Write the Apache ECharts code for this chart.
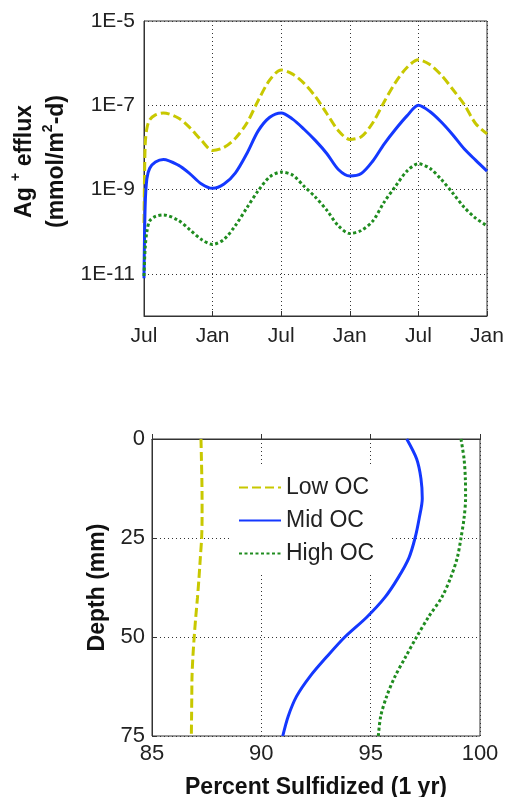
<!DOCTYPE html>
<html>
<head>
<meta charset="utf-8">
<script src="https://cdn.jsdelivr.net/npm/echarts@6/dist/echarts.min.js"></script>
<style>
html, body { margin: 0; padding: 0; background: #fff; }
#chart { width: 507px; height: 797px; }
</style>
</head>
<body>
<div id="chart"></div>
<script>
// top panel: Ag+ efflux, x in months counted from the first July
const months = [0, 0.1, 0.25, 0.5, 1, 1.7, 3, 4, 5, 6, 7, 8, 9, 10, 11, 12, 13, 14, 15,
  16, 17, 18, 19, 20, 21, 22, 23, 24, 25, 26, 27, 28, 29, 30];
const tickLabels = ['Jul', 'Jan', 'Jul', 'Jan', 'Jul', 'Jan'];
const effluxLow = [1.6e-10, 1.1e-8, 2.8e-8, 4.5e-8, 5.9e-8, 6.6e-8, 5.0e-8, 2.95e-8, 1.5e-8, 8.5e-9,
  1.0e-8, 1.66e-8, 3.8e-8, 1.32e-7, 4.0e-7, 6.9e-7, 5.5e-7, 3.3e-7, 1.6e-7, 6.3e-8,
  2.5e-8, 1.55e-8, 1.8e-8, 3.8e-8, 1.2e-7, 3.5e-7, 7.9e-7, 1.2e-6, 9.3e-7, 5.2e-7,
  2.4e-7, 1.05e-7, 3.7e-8, 2.1e-8];
const effluxMid = [7.9e-12, 4.0e-10, 1.8e-9, 3.2e-9, 4.5e-9, 5.2e-9, 3.8e-9, 2.4e-9, 1.38e-9, 1.07e-9,
  1.35e-9, 2.5e-9, 7.2e-9, 2.5e-8, 5.2e-8, 6.6e-8, 4.7e-8, 2.7e-8, 1.45e-8, 7.1e-9,
  3.0e-9, 2.1e-9, 2.4e-9, 4.7e-9, 1.2e-8, 2.7e-8, 5.6e-8, 1.0e-7, 7.1e-8, 4.0e-8,
  2.0e-8, 9.3e-9, 5.0e-9, 2.75e-9];
const effluxHigh = [8.9e-12, 4.0e-11, 1.0e-10, 1.8e-10, 2.3e-10, 2.5e-10, 1.86e-10, 1.12e-10, 6.6e-11, 5.0e-11,
  6.6e-11, 1.41e-10, 3.7e-10, 9.5e-10, 2.0e-9, 2.6e-9, 2.2e-9, 1.2e-9, 6.6e-10, 3.2e-10,
  1.38e-10, 9.1e-11, 1.07e-10, 1.78e-10, 5.0e-10, 1.2e-9, 2.75e-9, 4.1e-9, 3.2e-9, 1.74e-9,
  8.3e-10, 3.8e-10, 2.1e-10, 1.38e-10];

// bottom panel: percent sulfidized after 1 yr vs depth (mm)
const depths = [0, 5, 10, 15, 20, 25, 30, 35, 40, 45, 50, 55, 60, 65, 70, 75];
const sulfLow = [87.24, 87.26, 87.28, 87.29, 87.29, 87.27, 87.21, 87.15, 87.08, 87.0, 86.93, 86.87, 86.83, 86.82, 86.81, 86.8];
const sulfMid = [96.65, 97.1, 97.3, 97.36, 97.22, 97.03, 96.75, 96.26, 95.65, 94.82, 93.82, 92.99, 92.22, 91.61, 91.23, 90.98];
const sulfHigh = [99.13, 99.27, 99.33, 99.34, 99.27, 99.13, 98.96, 98.66, 98.25, 97.64, 97.1, 96.6, 96.11, 95.73, 95.46, 95.35];
const seriesNames = ['Low OC', 'Mid OC', 'High OC'];

const font = 'Liberation Sans, Arial, sans-serif';
const txt = '#222';
const dotted = [1, 3];
const styles = [
  { color: '#c8c800', type: [9, 4] },
  { color: '#1438ff', type: 'solid' },
  { color: '#1f8c1f', type: [3, 2.5] }
];

let myChart = echarts.init(document.getElementById('chart'), null, { renderer: 'canvas' });

function lineSeries(name, data, st, xi) {
  return {
    name: name,
    type: 'line',
    xAxisIndex: xi,
    yAxisIndex: xi,
    data: data,
    symbol: 'none',
    smooth: 0.3,
    color: st.color,
    lineStyle: { width: 3, color: st.color, type: st.type }
  };
}

let option = {
  animation: false,
  backgroundColor: '#fff',
  grid: [
    { left: 144, top: 21, width: 343, height: 295, show: true, borderColor: '#333', borderWidth: 1, outerBoundsMode: 'none' },
    { left: 152, top: 439, width: 328, height: 297, show: true, borderColor: '#333', borderWidth: 1, outerBoundsMode: 'none' }
  ],
  legend: {
    orient: 'vertical',
    left: 230,
    top: 467,
    padding: [9, 16, 10, 8],
    backgroundColor: '#fff',
    itemWidth: 42,
    itemHeight: 14,
    itemGap: 10,
    itemStyle: { opacity: 0 },   // hide the dot, keep the line sample
    data: seriesNames,
    textStyle: { fontSize: 23, color: txt, fontFamily: font }
  },
  xAxis: [
    {
      gridIndex: 0, type: 'value', min: 0, max: 30, interval: 6,
      axisLine: { lineStyle: { color: '#333' } },
      axisTick: { inside: true, length: 5, lineStyle: { color: '#333' } },
      axisLabel: {
        margin: 10, fontSize: 21, color: txt, fontFamily: font,
        formatter: v => tickLabels[Math.round(v / 6)]
      },
      splitLine: { show: true, lineStyle: { color: '#333', type: dotted } }
    },
    {
      gridIndex: 1, type: 'value', min: 85, max: 100, interval: 5,
      name: 'Percent Sulfidized (1 yr)', nameLocation: 'middle', nameGap: 40,
      nameTextStyle: { fontSize: 23, fontWeight: 'bold', color: '#111', fontFamily: font },
      axisLine: { lineStyle: { color: '#333' } },
      axisTick: { inside: true, length: 5, lineStyle: { color: '#333' } },
      axisLabel: { margin: 7, fontSize: 22, color: txt, fontFamily: font },
      splitLine: { show: true, lineStyle: { color: '#333', type: dotted } }
    }
  ],
  yAxis: [
    {
      gridIndex: 0, type: 'log', logBase: 10, min: 1e-12, max: 1e-5, splitNumber: 7,
      name: '{t|Ag }{s|+}{t| efflux}\n{t|(mmol/m}{s|2}{t|-d)}',
      nameLocation: 'middle', nameGap: 71, nameRotate: 90,
      nameTextStyle: {
        padding: [0, 0, 0, 14],
        rich: {
          t: { fontSize: 23, fontWeight: 'bold', color: '#111', fontFamily: font, lineHeight: 32 },
          s: { fontSize: 14, fontWeight: 'bold', color: '#111', fontFamily: font, lineHeight: 14, verticalAlign: 'top' }
        }
      },
      axisLine: { lineStyle: { color: '#333' } },
      axisTick: { show: false },
      axisLabel: {
        margin: 9, fontSize: 21, color: txt, fontFamily: font,
        formatter: v => {
          const e = Math.round(Math.log10(v));
          return e % 2 !== 0 ? '1E' + e : '';
        }
      },
      // only every other decade gets a grid line
      splitLine: { show: true, lineStyle: { color: ['rgba(0,0,0,0)', '#333'], type: dotted } }
    },
    {
      gridIndex: 1, type: 'value', inverse: true, min: 0, max: 75, interval: 25,
      name: 'Depth (mm)', nameLocation: 'middle', nameGap: 43, nameRotate: 90,
      nameTextStyle: { fontSize: 23, fontWeight: 'bold', color: '#111', fontFamily: font },
      axisLine: { lineStyle: { color: '#333' } },
      axisTick: { inside: true, length: 5, lineStyle: { color: '#333' } },
      axisLabel: { margin: 7, fontSize: 22, color: txt, fontFamily: font },
      splitLine: { show: true, lineStyle: { color: '#333', type: dotted } }
    }
  ],
  series: [
    lineSeries('Low OC efflux', months.map((m, i) => [m, effluxLow[i]]), styles[0], 0),
    lineSeries('Mid OC efflux', months.map((m, i) => [m, effluxMid[i]]), styles[1], 0),
    lineSeries('High OC efflux', months.map((m, i) => [m, effluxHigh[i]]), styles[2], 0),
    lineSeries(seriesNames[0], depths.map((d, i) => [sulfLow[i], d]), styles[0], 1),
    lineSeries(seriesNames[1], depths.map((d, i) => [sulfMid[i], d]), styles[1], 1),
    lineSeries(seriesNames[2], depths.map((d, i) => [sulfHigh[i], d]), styles[2], 1)
  ]
};
myChart.setOption(option);
</script>
</body>
</html>
